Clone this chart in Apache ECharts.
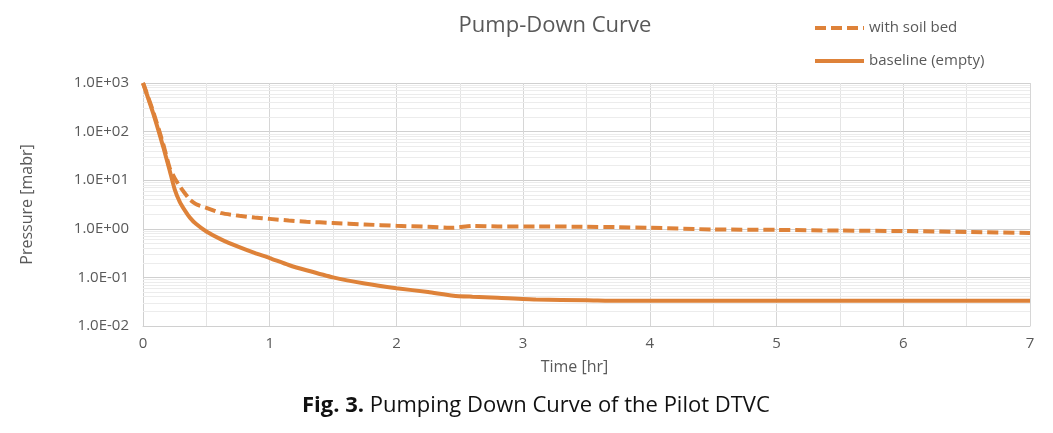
<!DOCTYPE html>
<html>
<head>
<meta charset="utf-8">
<script src="https://cdn.jsdelivr.net/npm/echarts@6/dist/echarts.min.js"></script>
<style>
html,body{margin:0;padding:0;background:#fff;}
#main{width:1053px;height:433px;}
</style>
</head>
<body>
<div id="main"></div>
<script>
// time axis (hr) and pressures
var timeHr   = [0, 0.08, 0.16, 0.21, 0.25, 0.29, 0.33, 0.37, 0.42, 0.5, 0.62, 0.76, 0.88, 1.0, 1.15, 1.29, 1.5, 1.75, 2.0, 2.25, 2.45, 2.6, 2.8, 3.1, 3.5, 3.75, 4.0, 4.5, 5.0, 5.5, 6.0, 6.5, 7.0];
var baseline = [1000, 240, 48, 16, 6.5, 3.6, 2.4, 1.7, 1.25, 0.88, 0.6, 0.42, 0.32, 0.25, 0.18, 0.14, 0.10, 0.075, 0.06, 0.05, 0.042, 0.04, 0.038, 0.035, 0.034, 0.033, 0.033, 0.033, 0.033, 0.033, 0.033, 0.033, 0.033];
var soilBed  = [1000, 260, 55, 18, 11, 7.5, 5.4, 4.0, 3.2, 2.7, 2.1, 1.85, 1.7, 1.6, 1.48, 1.4, 1.32, 1.23, 1.15, 1.1, 1.05, 1.15, 1.12, 1.12, 1.1, 1.08, 1.05, 0.97, 0.95, 0.92, 0.9, 0.86, 0.82];
var decades  = [0.01, 0.1, 1, 10, 100, 1000];
var seriesNames = ['with soil bed', 'baseline (empty)'];

var orange = '#DE8239';
var txtGrey = '#595959';

function pairs(vals){
	var out=[];
	for(var i=0;i<timeHr.length;i++){
		out.push([timeHr[i], vals[i]]);
	}
	return out;
}

// minor log gridlines 2..9 in each decade
var minorLines=[];
for(var d=0;d<decades.length-1;d++){
	for(var m=2;m<=9;m++){
		minorLines.push({yAxis: decades[d]*m});
	}
}

function fmtExp(v){
	var e=Math.round(Math.log10(v));
	var s=e<0?'-':'+';
	var a=Math.abs(e);
	return '1.0E'+s+(a<10?'0'+a:a);
}

var myChart = echarts.init(document.getElementById('main'));
var option = {
	animation:false,
	textStyle:{fontFamily:'Open Sans'},
	title:{
		text:'Pump-Down Curve',
		left:550, top:10, textAlign:'center',
		textStyle:{fontSize:22, fontWeight:'normal', color:txtGrey, fontFamily:'Open Sans'}
	},
	legend:{
		orient:'vertical',
		left:808, top:15,
		itemGap:17,
		itemWidth:49, itemHeight:20,
		data:seriesNames,
		itemStyle:{opacity:0},
		lineStyle:{width:4},
		textStyle:{fontSize:15, color:txtGrey, fontFamily:'Open Sans'}
	},
	grid:{left:143, right:23, top:83, bottom:107},
	xAxis:{
		type:'value', min:0, max:7, interval:1,
		name:'Time [hr]', nameLocation:'middle', nameGap:33,
		nameTextStyle:{fontSize:16, color:txtGrey, padding:[0,24,0,0]},
		axisLine:{show:true, lineStyle:{color:'#d0d0d0'}},
		axisTick:{show:false},
		axisLabel:{fontSize:15, color:txtGrey, margin:10},
		splitLine:{show:true, lineStyle:{color:'#d6d6d6'}},
		minorTick:{show:false, splitNumber:2},
		minorSplitLine:{show:true, lineStyle:{color:'#e4e4e4'}}
	},
	yAxis:{
		type:'log', logBase:10, min:0.01, max:1000,
		name:'Pressure [mabr]', nameLocation:'middle', nameGap:108, nameRotate:90,
		nameTextStyle:{fontSize:16, color:txtGrey},
		axisLine:{show:true, lineStyle:{color:'#d0d0d0'}},
		axisTick:{show:false},
		axisLabel:{fontSize:15, color:txtGrey, margin:14, formatter:fmtExp},
		splitLine:{show:true, lineStyle:{color:'#d0d0d0'}}
	},
	series:[
		{
			name:seriesNames[0], type:'line', symbol:'none', smooth:0.2,
			data:pairs(soilBed),
			lineStyle:{color:orange, width:4, type:[11,5]},
			itemStyle:{color:orange},
			z:3
		},
		{
			name:seriesNames[1], type:'line', symbol:'none', smooth:0.2,
			data:pairs(baseline),
			lineStyle:{color:orange, width:4},
			itemStyle:{color:orange},
			z:3,
			markLine:{
				silent:true, symbol:'none', animation:false,
				label:{show:false},
				lineStyle:{color:'#ececec', width:1, type:'solid'},
				data:minorLines,
				z:1
			}
		}
	],
	graphic:[{
		type:'text', left:302, top:395,
		style:{
			text:'{b|Fig. 3.} Pumping Down Curve of the Pilot DTVC',
			fontSize:22, fill:'#111', fontFamily:'Open Sans',
			rich:{b:{fontWeight:'bold', fontSize:22, fontFamily:'Open Sans', fill:'#111'}}
		}
	}]
};
myChart.setOption(option);
</script>
</body>
</html>
